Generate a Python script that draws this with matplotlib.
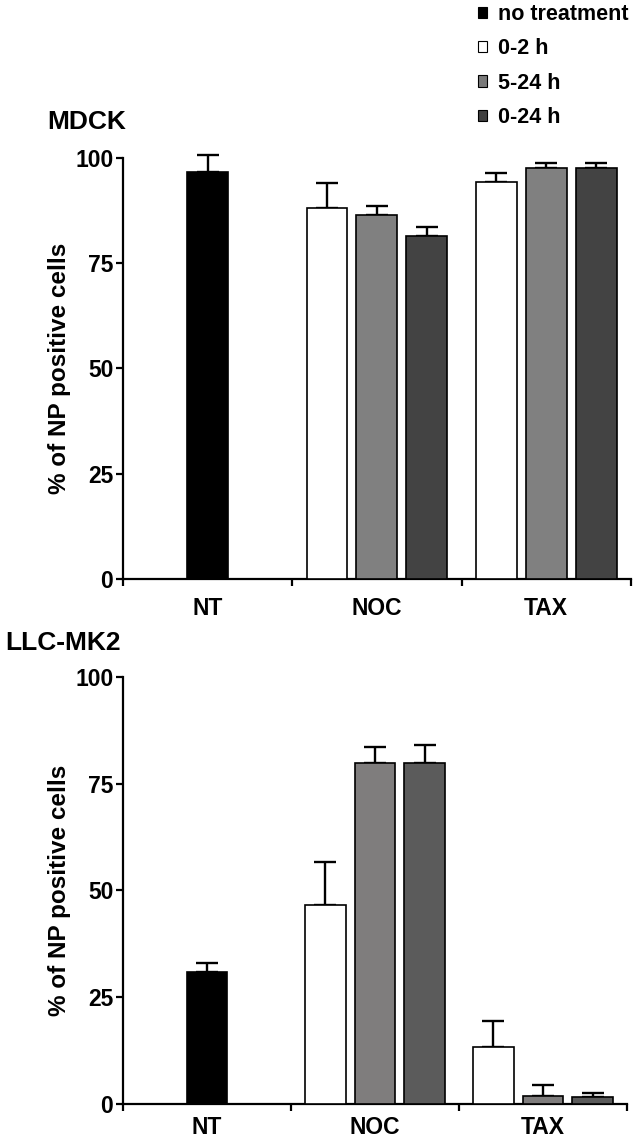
import matplotlib
matplotlib.use('Agg')
import matplotlib.pyplot as plt
from matplotlib.patches import Patch
import numpy as np

plt.rcParams['font.family'] = ['Liberation Sans', 'DejaVu Sans']
plt.rcParams['font.weight'] = 'bold'

# 数据
groups = ['NT', 'NOC', 'TAX']
series = ['no treatment', '0-2 h', '5-24 h', '0-24 h']

mdck_nt, mdck_nt_err = 96.6, 4.2
mdck_noc = [88.2, 86.4, 81.5]
mdck_noc_err = [5.8, 2.3, 2.0]
mdck_tax = [94.2, 97.5, 97.5]
mdck_tax_err = [2.2, 1.3, 1.3]

llc_nt, llc_nt_err = 31.0, 2.0
llc_noc = [46.6, 79.8, 79.8]
llc_noc_err = [10.0, 3.8, 4.3]
llc_tax = [13.3, 1.9, 1.6]
llc_tax_err = [6.1, 2.5, 1.0]

yticks = [0, 25, 50, 75, 100]

fig = plt.figure(figsize=(6.38, 11.42), dpi=100)


def draw_panel(ax, nt, nt_err, noc, noc_err, tax, tax_err, gray, dark, xpad):
    w = 0.242
    off = 0.295
    ekw = dict(fmt='none', ecolor='black', elinewidth=1.7, capsize=8, capthick=1.7)
    # NT柱
    ax.bar(0.5, nt, w, color='black', edgecolor='black', linewidth=1.2, zorder=3)
    eb = ax.errorbar(0.5, nt, yerr=[[0], [nt_err]], zorder=2, **ekw)
    for a in eb.lines[1] + eb.lines[2]:
        a.set_clip_on(False)
    cols = ['white', gray, dark]
    for gi, (vals, errs) in enumerate([(noc, noc_err), (tax, tax_err)]):
        c = 1.5 + gi
        for i in range(3):
            x = c + (i - 1) * off
            ax.bar(x, vals[i], w, color=cols[i], edgecolor='black', linewidth=1.2, zorder=3)
            eb = ax.errorbar(x, vals[i], yerr=[[0], [errs[i]]], zorder=2, **ekw)
            for a in eb.lines[1] + eb.lines[2]:
                a.set_clip_on(False)

    ax.set_xlim(0, 3)
    ax.set_ylim(0, 100)
    ax.set_yticks(yticks)
    ax.set_yticklabels([str(t) for t in yticks], fontsize=16.5, fontweight='bold')
    ax.set_xticks([0, 1, 2, 3])
    ax.set_xticklabels([])
    ax.set_xticks([0.5, 1.5, 2.5], minor=True)
    ax.set_xticklabels(groups, minor=True, fontsize=16.5, fontweight='bold')
    ax.tick_params(axis='x', which='minor', length=0, pad=xpad)
    ax.tick_params(axis='x', which='major', length=5, width=1.6, direction='out')
    ax.tick_params(axis='y', length=5, width=1.6, direction='out', pad=2)
    for s in ['top', 'right']:
        ax.spines[s].set_visible(False)
    for s in ['left', 'bottom']:
        ax.spines[s].set_linewidth(1.6)
    ax.set_ylabel('% of NP positive cells', fontsize=17.5, fontweight='bold', labelpad=3)
    ax.set_facecolor('none')
    return ax


ax1 = fig.add_axes([0.1928, 0.4930, 0.796, 0.3687])
draw_panel(ax1, mdck_nt, mdck_nt_err, mdck_noc, mdck_noc_err, mdck_tax, mdck_tax_err,
           '#808080', '#434343', 13)
ax2 = fig.add_axes([0.1928, 0.0333, 0.790, 0.3739])
draw_panel(ax2, llc_nt, llc_nt_err, llc_noc, llc_noc_err, llc_tax, llc_tax_err,
           '#7f7d7d', '#5b5b5b', 9)

fig.text(47 / 638, 1 - 122 / 1142, 'MDCK', fontsize=19, fontweight='bold', va='center', ha='left')
fig.text(5 / 638, 1 - 643 / 1142, 'LLC-MK2', fontsize=19, fontweight='bold', va='center', ha='left')

# 图例
leg_colors = ['black', 'white', '#7a7a7a', '#3f3f3f']
handles = [Patch(facecolor=c, edgecolor='black', linewidth=0.8) for c in leg_colors]
fig.legend(handles, series, loc='upper left', bbox_to_anchor=(478 / 638, 1 - 4 / 1142),
           frameon=False, prop={'weight': 'bold', 'size': 15.5},
           handlelength=0.42, handleheight=0.42, handletextpad=0.5,
           labelspacing=0.62, borderpad=0, borderaxespad=0)

fig.savefig('out.png', dpi=100)
